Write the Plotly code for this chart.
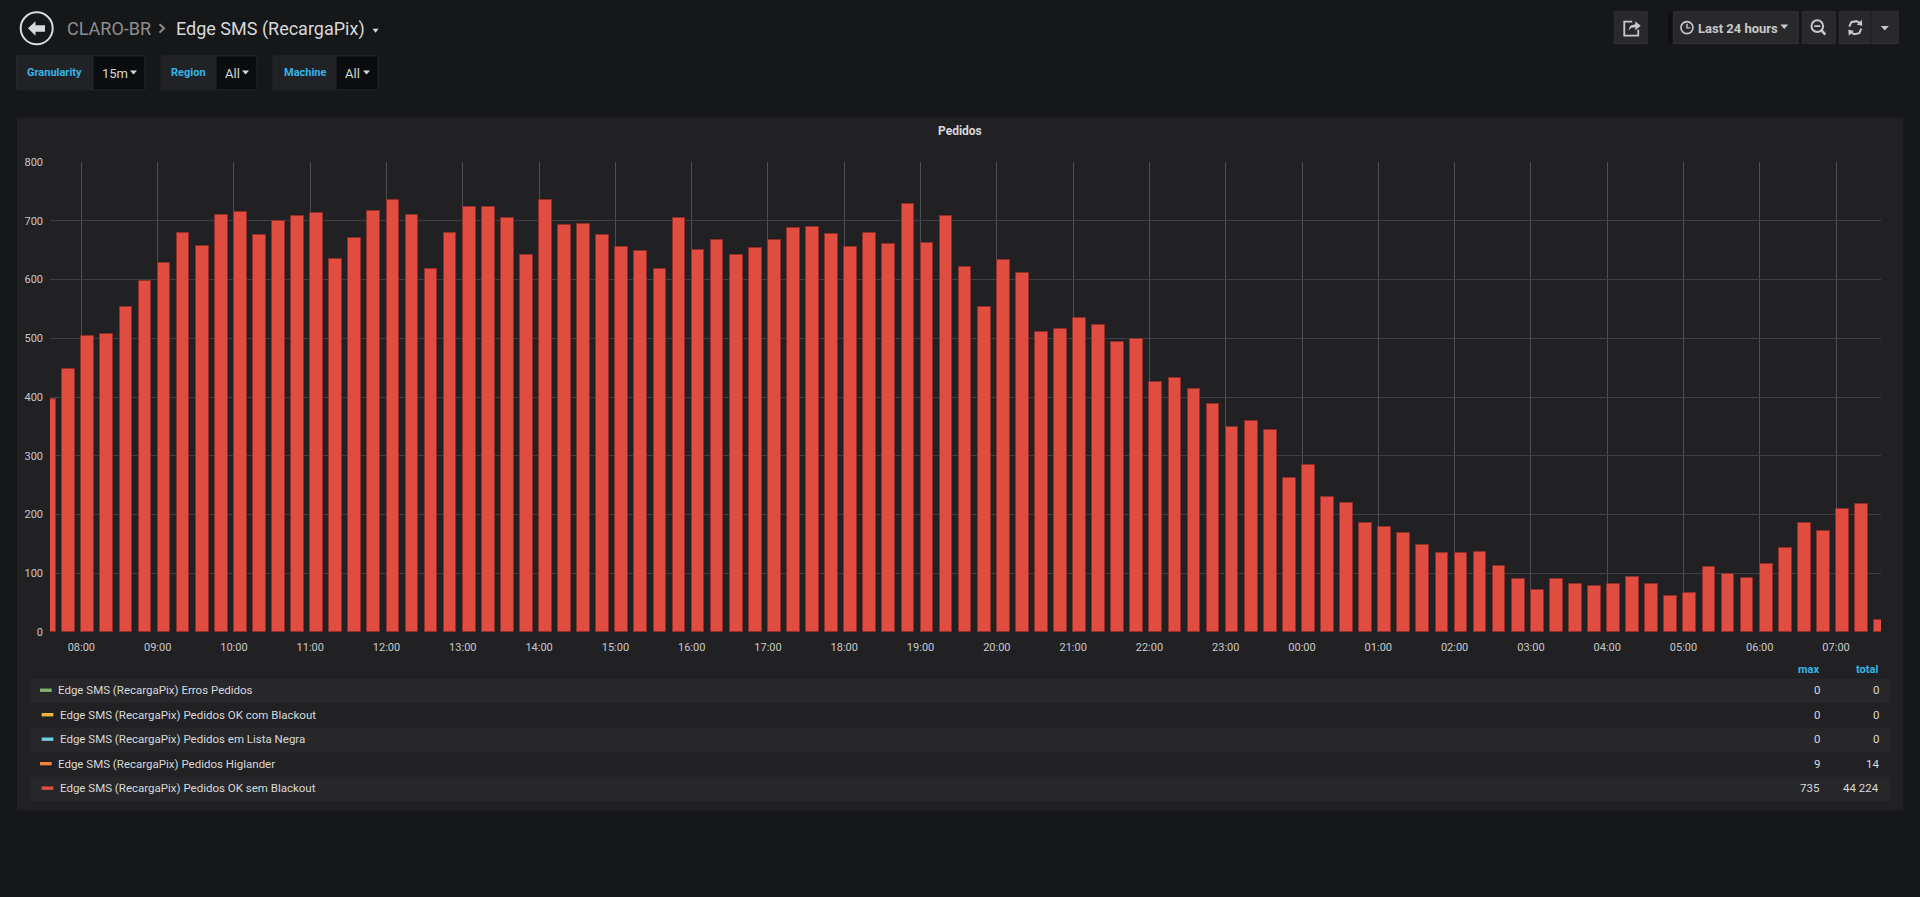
import plotly.graph_objects as go
import pandas as pd

# ---------------- data ----------------
start_time = "2021-06-14 07:30"
range_start = "2021-06-14 07:35:20"
range_end = "2021-06-15 07:35:20"
pedidos_ok_sem_blackout = [
    396, 447, 504, 508, 553, 597, 628, 680, 657, 709,
    715, 676, 700, 708, 714, 635, 671, 716, 735, 709,
    618, 680, 724, 724, 704, 641, 735, 692, 694, 675,
    656, 648, 618, 704, 651, 667, 641, 654, 668, 688,
    689, 677, 655, 680, 661, 728, 662, 708, 621, 553,
    634, 611, 511, 516, 534, 523, 493, 499, 425, 433,
    414, 388, 349, 359, 343, 262, 284, 230, 219, 186,
    178, 169, 148, 135, 135, 136, 112, 90, 72, 90,
    81, 79, 81, 93, 81, 62, 67, 111, 99, 92,
    115, 143, 185, 172, 210, 218, 20,
]
times = pd.date_range(start_time, periods=len(pedidos_ok_sem_blackout), freq="15min")

series_names = [
    "Edge SMS (RecargaPix) Erros Pedidos",
    "Edge SMS (RecargaPix) Pedidos OK com Blackout",
    "Edge SMS (RecargaPix) Pedidos em Lista Negra",
    "Edge SMS (RecargaPix) Pedidos Higlander",
    "Edge SMS (RecargaPix) Pedidos OK sem Blackout",
]
series_colors = ["#7EB26D", "#EAB839", "#6ED0E0", "#EF843C", "#E24D42"]
series_max = ["0", "0", "0", "9", "735"]
series_total = ["0", "0", "0", "14", "44 224"]

breadcrumb_parent = "CLARO-BR"
dashboard_title = "Edge SMS (RecargaPix)"
panel_title = "Pedidos"
variables = [("Granularity", "15m"), ("Region", "All"), ("Machine", "All")]
time_range_label = "Last 24 hours"

# ---------------- geometry helpers ----------------
W, H = 1920, 897
L, R, T, B = 50.0, 1880.7, 161.5, 632.0
FONT = "Roboto"
TXT = "#d8d9da"
BLUE = "#33b5e5"
PAGE = "#161719"


def X(px):
    return (px - L) / (R - L)


def Y(py):
    return (B - py) / (B - T)


shapes = []
ann = []


def rect(x0, y0, x1, y1, fill, line=None, lw=1, layer="below"):
    shapes.append(dict(type="rect", xref="paper", yref="paper",
                       x0=X(x0), x1=X(x1), y0=Y(y1), y1=Y(y0),
                       fillcolor=fill,
                       line=dict(color=line if line else "rgba(0,0,0,0)", width=lw if line else 0),
                       layer=layer))


def path(pts, fill=None, line=None, lw=1, close=True, layer="above"):
    d = "M" + " L".join(f"{X(a):.6f},{Y(b):.6f}" for a, b in pts) + (" Z" if close else "")
    shapes.append(dict(type="path", xref="paper", yref="paper", path=d,
                       fillcolor=fill if fill else "rgba(0,0,0,0)",
                       line=dict(color=line if line else "rgba(0,0,0,0)", width=lw if line else 0),
                       layer=layer))


def circle(cx, cy, r, line, lw, fill=None):
    shapes.append(dict(type="circle", xref="paper", yref="paper",
                       x0=X(cx - r), x1=X(cx + r), y0=Y(cy + r), y1=Y(cy - r),
                       fillcolor=fill if fill else "rgba(0,0,0,0)",
                       line=dict(color=line, width=lw), layer="above"))


def text(px, py, s, size, color, anchor="left"):
    ann.append(dict(text=s, x=X(px), y=Y(py), xref="paper", yref="paper",
                    xanchor=anchor, yanchor="middle", showarrow=False,
                    font=dict(family=FONT, size=size, color=color)))


def caret(cx, cy, w, h, color):
    path([(cx - w / 2, cy - h / 2), (cx + w / 2, cy - h / 2), (cx, cy + h / 2)], fill=color)


# ---------------- page header ----------------
circle(36.7, 27.7, 16, TXT, 2)
path([(28, 27.7), (35.5, 20.5), (35.5, 24.5), (45, 24.5), (45, 31), (35.5, 31), (35.5, 35)], fill=TXT)
text(65, 28, breadcrumb_parent, 18, "#8e8e8e")
path([(159.5, 23.5), (164, 27.7), (159.5, 32)], line="#8e8e8e", lw=2, close=False)
text(174, 28, dashboard_title, 18, TXT)
caret(375.5, 30, 6, 4, TXT)

# variables
var_boxes = [(16.5, 93, 145), (161, 216, 257), (273, 336, 378)]
for (lbl, val), (bx0, bmid, bx1) in zip(variables, var_boxes):
    rect(bx0, 55.3, bmid, 89.3, "#212226", line="#26272a")
    rect(bmid, 55.3, bx1, 89.3, "#0b0c0e", line="#26272a")
    text((bx0 + bmid) / 2, 72, f"<b>{lbl}</b>", 11, BLUE, anchor="center")
    text(bmid + 7, 72.5, val, 13, TXT)
    caret(bx1 - 11.5, 72, 7, 4, TXT)

# top right buttons
BTN = "#29292c"
rect(1614, 11, 1647, 43, BTN, line="#2f3033")
# share icon
path([(1632, 21), (1624, 21), (1624, 35), (1638, 35), (1638, 29)], line="#c8c9ca", lw=1.8, close=False)
path([(1628, 30), (1630, 25), (1635, 23.5), (1635, 20.5), (1640.5, 25), (1635, 29.5), (1635, 26.5), (1631, 27)], fill="#c8c9ca")
rect(1668, 11, 1673, 43, "#0f1012")
rect(1673, 11, 1798, 43, BTN, line="#2f3033")
circle(1686.7, 27, 6, "#c8c9ca", 1.6)
path([(1686.7, 23), (1686.7, 27.2), (1690, 27.2)], line="#c8c9ca", lw=1.4, close=False)
text(1696, 27.5, "<b>" + time_range_label + "</b>", 13, "#c8c9ca")
caret(1784, 26, 8, 4.5, "#c8c9ca")
rect(1802, 11, 1835, 43, BTN, line="#2f3033")
circle(1817, 25.5, 5.8, "#c8c9ca", 2)
path([(1814, 25.5), (1820, 25.5)], line="#c8c9ca", lw=1.8, close=False)
path([(1821, 29.5), (1825, 34)], line="#c8c9ca", lw=2.6, close=False)
rect(1839, 11, 1898, 43, BTN, line="#2f3033")
rect(1870.3, 11, 1871.3, 43, "#1f2023")
# refresh icon
path([(1849, 26), (1851, 21.5), (1856, 20.5), (1860, 22.5)], line="#c8c9ca", lw=2, close=False)
path([(1861.5, 19), (1862, 25), (1856.5, 24)], fill="#c8c9ca")
path([(1861, 28), (1859, 32.5), (1854, 33.5), (1850, 31.5)], line="#c8c9ca", lw=2, close=False)
path([(1848.5, 35), (1848, 29), (1853.5, 30)], fill="#c8c9ca")
caret(1884.5, 27.5, 8, 4.5, "#c8c9ca")

# ---------------- panel ----------------
PANEL = "#212124"
rect(17, 117, 1903, 810.7, PANEL)
text(960, 130, "<b>" + panel_title + "</b>", 12, TXT, anchor="center")

# legend table
text(1821, 669.3, "<b>max</b>", 11, BLUE, anchor="right")
text(1880, 669.3, "<b>total</b>", 11, BLUE, anchor="right")
row_y0 = 690.3
row_h = 24.5
for i, (nm, col, mx, tot) in enumerate(zip(series_names, series_colors, series_max, series_total)):
    cy = row_y0 + i * row_h
    if i % 2 == 0:
        rect(30, cy - 11.7, 1890, cy + 12.8, "#27272a")
    sx = 40 if i in (0, 3) else 41.7
    rect(sx, cy - 1.7, sx + 11.7, cy + 1.7, col, layer="above")
    text(sx + 16, cy, nm, 11.5, TXT)
    text(1822, cy, mx, 11.5, TXT, anchor="right")
    text(1881, cy, tot, 11.5, TXT, anchor="right")

# ---------------- chart ----------------
fig = go.Figure()
fig.add_trace(go.Bar(
    x=times, y=pedidos_ok_sem_blackout,
    width=600000, offset=0,
    marker=dict(color="#E24D42", line=dict(color="rgba(150,45,40,0.9)", width=1)),
    name=series_names[4], showlegend=False,
))

fig.update_layout(
    width=W, height=H,
    margin=dict(l=L, r=W - R, t=T, b=H - B, pad=0),
    paper_bgcolor=PAGE,
    plot_bgcolor=PANEL,
    font=dict(family=FONT, size=11, color="#c8c9ca"),
    showlegend=False,
    bargap=0,
    shapes=shapes,
    annotations=ann,
    xaxis=dict(
        type="date",
        range=[range_start, range_end],
        tick0="2021-06-14 08:00",
        dtick=3600000,
        tickformat="%H:%M",
        showgrid=True, gridcolor="#4d4e51", gridwidth=1,
        zeroline=False, showline=False,
        ticks="", ticklabelstandoff=7,
        tickfont=dict(family=FONT, size=11, color="#c8c9ca"),
        fixedrange=True,
    ),
    yaxis=dict(
        range=[0, 800],
        dtick=100,
        showgrid=True, gridcolor="#3e3f42", gridwidth=1,
        zeroline=False, showline=False,
        ticks="", ticklabelstandoff=6,
        tickfont=dict(family=FONT, size=11, color="#c8c9ca"),
        fixedrange=True,
    ),
)

page_css = (
    "document.documentElement.style.margin='0';"
    "document.documentElement.style.background='" + PAGE + "';"
    "document.body.style.margin='0';"
    "document.body.style.padding='0';"
    "document.body.style.overflow='hidden';"
    "document.body.style.background='" + PAGE + "';"
)

fig.write_html("out.html", config={"displayModeBar": False}, post_script=page_css)
